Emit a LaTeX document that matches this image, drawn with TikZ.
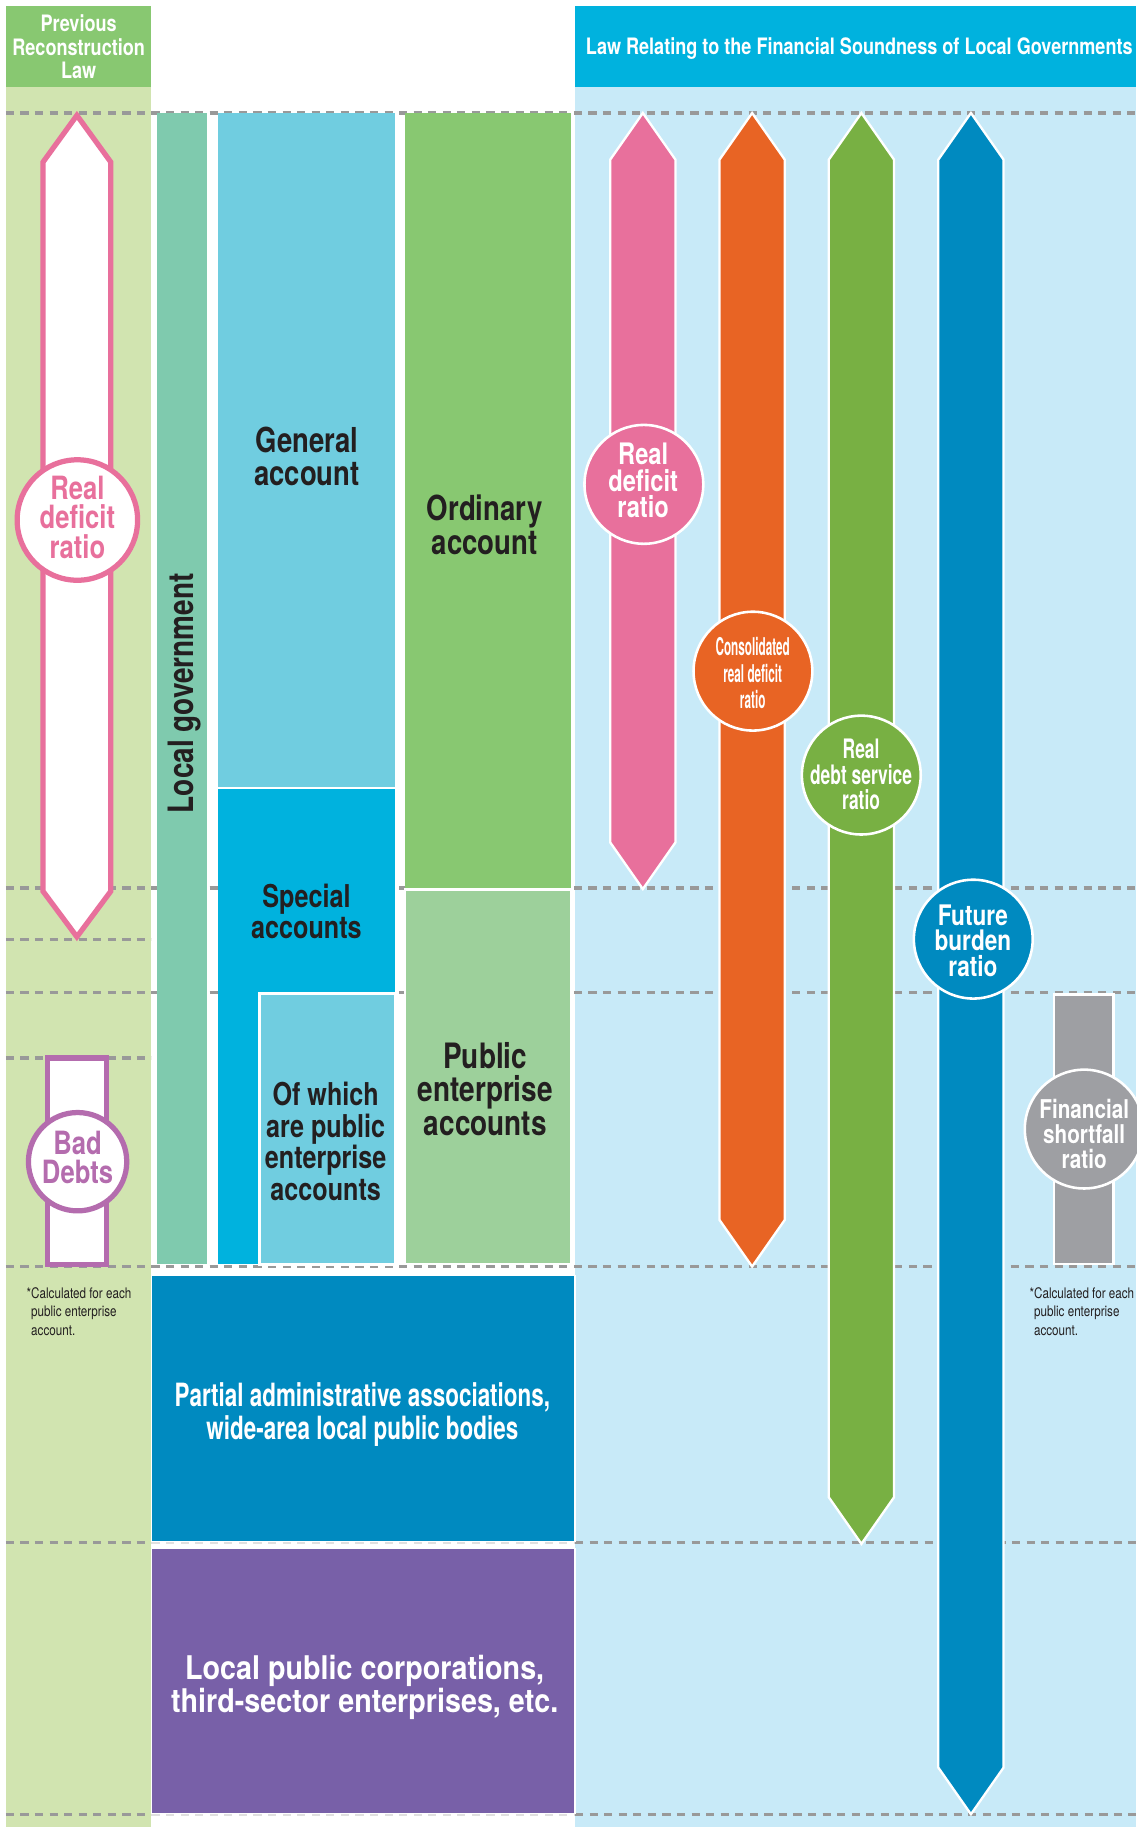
\documentclass[tikz,border=0pt]{standalone}
\usepackage{fontspec}
\setmainfont{TeX Gyre Heros}
\newfontfamily\cnd{TeX Gyre Heros}[FakeStretch=0.80]
\newfontfamily\cndn{TeX Gyre Heros}[FakeStretch=0.70]
\newfontfamily\cndx{TeX Gyre Heros}[FakeStretch=0.65]
\newfontfamily\cndxx{TeX Gyre Heros}[FakeStretch=0.48]
\newfontfamily\cndw{TeX Gyre Heros}[FakeStretch=0.88]

\definecolor{panelgreen}{HTML}{D1E4B0}
\definecolor{headgreen}{HTML}{88C871}
\definecolor{panelblue}{HTML}{C8EAF8}
\definecolor{headblue}{HTML}{00B2DE}
\definecolor{localgov}{HTML}{7FCAAE}
\definecolor{general}{HTML}{70CDE0}
\definecolor{special}{HTML}{00B2DE}
\definecolor{ordinary}{HTML}{88C871}
\definecolor{pubent}{HTML}{9DD09B}
\definecolor{partial}{HTML}{008AC0}
\definecolor{thirdsec}{HTML}{7860A8}
\definecolor{pinkR}{HTML}{E8709C}
\definecolor{orangeR}{HTML}{E86424}
\definecolor{greenR}{HTML}{78B043}
\definecolor{blueR}{HTML}{008AC0}
\definecolor{grayR}{HTML}{9E9FA3}
\definecolor{baddebt}{HTML}{B46CAE}
\definecolor{dashgray}{HTML}{999999}
\definecolor{ink}{HTML}{231F20}

\newcommand\fs[2]{\fontsize{#1}{#2}\selectfont}
% double headed bar: centre x, top tip, bottom tip, colour
\newcommand\ratioarrow[4]{%
  \filldraw[bararrow, fill=#4] (#1-28,#2+40) -- (#1,#2) -- (#1+28,#2+40)
    -- (#1+28,#3-40) -- (#1,#3) -- (#1-28,#3-40) -- cycle;}

\begin{document}
\begin{tikzpicture}[x=1pt, y=-1pt,
    lvl/.style={draw=dashgray, line width=2.8pt, dash pattern=on 7pt off 5.5pt},
    head/.style={font=\cnd\bfseries\fs{19.4}{20}, text=white, align=center, inner sep=0pt},
    acct/.style 2 args={font=\cnd\bfseries\fs{#1}{#2}, text=ink, align=center, inner sep=0pt},
    ratio/.style={circle, draw=white, line width=2.2pt, minimum size=102pt, inner sep=0pt},
    ratiotxt/.style 2 args={font=\cnd\bfseries\fs{#1}{#2}, text=white, align=center, inner sep=0pt},
    oldratio/.style={circle, fill=white, line width=4.5pt, inner sep=0pt},
    note/.style={font=\cnd\fs{12.5}{15.75}, text=ink, align=left, inner sep=0pt, anchor=west},
    bararrow/.style={draw=white, line width=2pt, line join=miter}]

\useasboundingbox[fill=white] (0,0) rectangle (975,1568);

% the two laws
\fill[panelgreen] (5,74) rectangle (130,1568);
\fill[headgreen] (5,5.2) rectangle (130,74.4);
\fill[panelblue] (493.5,74) rectangle (975,1568);
\fill[headblue] (493.5,5.2) rectangle (975,74.4);
\node[head] (prevlaw) at (67.5,40.2) {Previous\\Reconstruction\\Law};
\node[head] (newlaw) at (737.5,42) {Law Relating to the Financial Soundness of Local Governments};

% levels
\foreach \y in {97,762,852,1087}
  \draw[lvl] (5,\y) -- (975,\y);
\foreach \y in {806,908}
  \draw[lvl] (5,\y) -- (130,\y);
\foreach \y in {1323.5,1557}{
  \draw[lvl] (5,\y) -- (130,\y);
  \draw[lvl] (493.5,\y) -- (975,\y);
  \draw[lvl, draw=dashgray!30] (130,\y) -- (493.5,\y);
}

% accounts
\fill[localgov] (134.6,97) rectangle (177.5,1085);
\fill[general] (187,97) rectangle (339,675);
\fill[special] (187,677) rectangle (339,1085);
\filldraw[fill=general, draw=white, line width=2.5pt] (223,852.5) rectangle (339,1085);
\fill[ordinary] (347.5,97) rectangle (490,763);
\filldraw[fill=pubent, draw=white, line width=2pt] (347.5,763.5) rectangle (490,1085);
\filldraw[fill=partial, draw=white, line width=1pt] (130.2,1095) rectangle (493.5,1323);
\filldraw[fill=thirdsec, draw=white, line width=1pt] (130.2,1328.8) rectangle (493.5,1556.4);

\node[acct={30}{30}, rotate=90] (localgovt) at (158,595) {Local government};
\node[acct={29.5}{28.5}] (generalt) at (263.5,391.5) {General\\account};
\node[acct={29.6}{29.2}] (ordinaryt) at (416,450.4) {Ordinary\\account};
\node[acct={27}{26.5}] (specialt) at (263,782) {Special\\accounts};
\node[acct={27}{27.2}] (ofwhicht) at (279.5,979.5) {Of which\\are public\\enterprise\\accounts};
\node[acct={30}{28.7}] (pubentt) at (416.5,934.5) {Public\\enterprise\\accounts};
\node[acct={27.5}{27.8}, font=\cndn\bfseries\fs{27.5}{27.8}, text=white] (partialt) at (311,1214)
  {Partial administrative associations,\\wide-area local public bodies};
\node[acct={28}{28}, font=\cndw\bfseries\fs{28}{28}, text=white] (thirdsect) at (313,1448.4)
  {Local public corporations,\\third-sector enterprises, etc.};

% previous law
\filldraw[line width=4.5pt, draw=pinkR, fill=white, line join=miter]
  (37,139) -- (66,99) -- (95,139) -- (95,765) -- (66,804) -- (37,765) -- cycle;
\filldraw[line width=4.5pt, draw=baddebt, fill=white] (41,908) rectangle (91.4,1085.3);
\node[oldratio, draw=pinkR, minimum size=103.4pt] (oldrdr) at (66.4,446.3) {};
\node[oldratio, draw=baddebt, minimum size=84.4pt] (bad) at (66.6,997) {};
\node[ratiotxt={27.5}{25}, text=pinkR] (oldrdrt) at (66.4,444) {Real\\deficit\\ratio};
\node[ratiotxt={27.5}{24.8}, text=baddebt] (badt) at (66.6,993.5) {Bad\\Debts};
\node[note] (noteL) at (26.6,1125.5) {\llap{*}Calculated for each\\public enterprise\\account.};

% soundness law
\ratioarrow{551.7}{97}{763}{pinkR}
\ratioarrow{645.5}{97}{1087}{orangeR}
\ratioarrow{739.3}{97}{1325}{greenR}
\ratioarrow{833.3}{97}{1557}{blueR}
\filldraw[fill=grayR, draw=white, line width=2pt] (904.5,853.5) rectangle (955.5,1085);

\node[ratio, fill=pinkR] (rdr) at (552.6,415.7) {};
\node[ratio, fill=orangeR] (crdr) at (646.2,576) {};
\node[ratio, fill=greenR] (rdsr) at (739.2,665.2) {};
\node[ratio, fill=blueR] (fbr) at (835.3,806) {};
\node[ratio, fill=grayR] (fsr) at (930.5,969) {};
\node[ratiotxt={25.4}{22.5}] (rdrt) at (552,412.4) {Real\\deficit\\ratio};
\node[ratiotxt={21}{23}, font=\cndxx\bfseries\fs{21}{23}] (crdrt) at (646,577.6) {Consolidated\\real deficit\\ratio};
\node[ratiotxt={23}{22.2}, font=\cndx\bfseries\fs{23}{22.2}] (rdsrt) at (739,664.6) {Real\\debt service\\ratio};
\node[ratiotxt={24.3}{22}] (fbrt) at (835,807.4) {Future\\burden\\ratio};
\node[ratiotxt={22.2}{21.5}] (fsrt) at (930.5,973.4) {Financial\\shortfall\\ratio};
\node[note] (noteR) at (887.3,1125.5) {\llap{*}Calculated for each\\public enterprise\\account.};

\end{tikzpicture}
\end{document}
